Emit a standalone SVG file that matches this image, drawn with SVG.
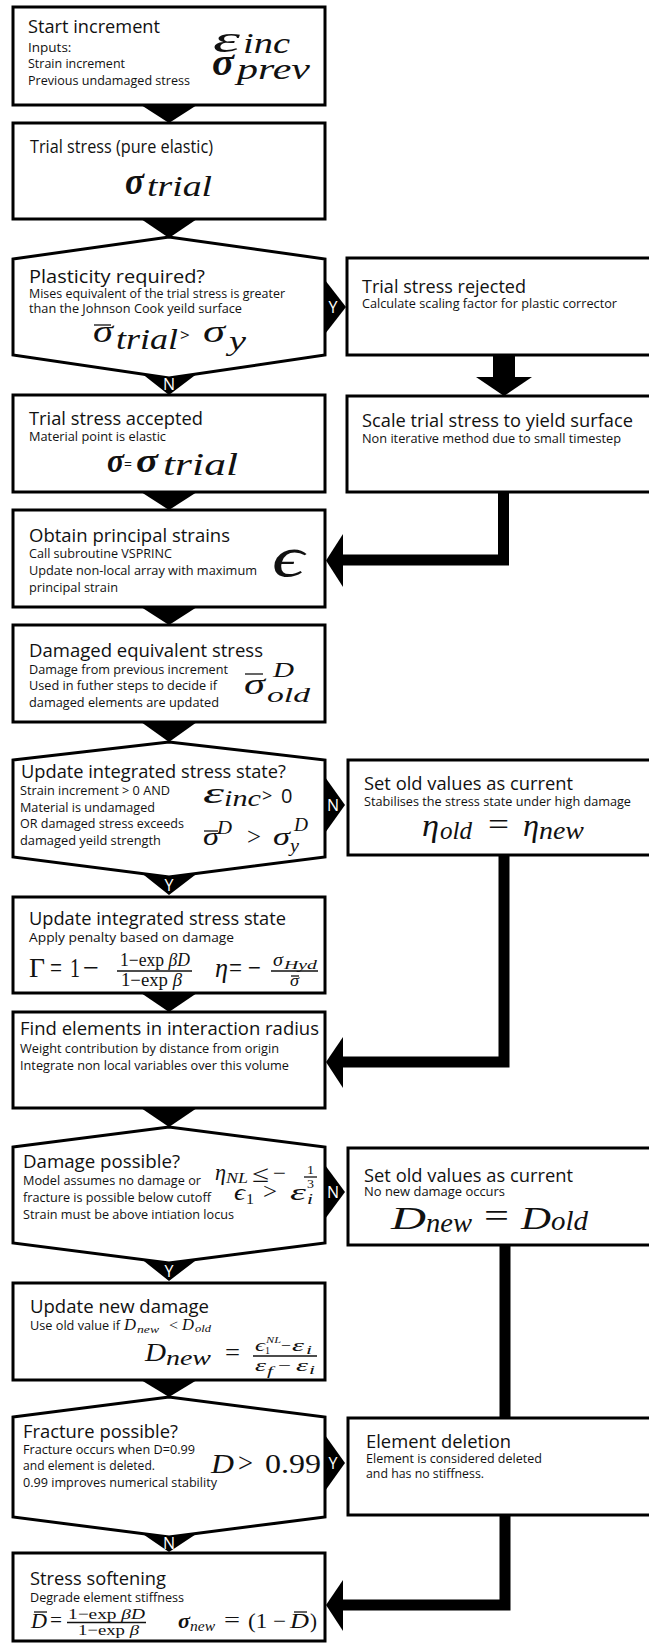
<svg xmlns="http://www.w3.org/2000/svg" width="649" height="1646" viewBox="0 0 649 1646">
<style>
  .box { fill: #fff; stroke: #000; stroke-width: 3; }
  .h { font-family: "Open Sans", "Lato", sans-serif; font-size: 18px; fill: #111; }
  .s { font-family: "Open Sans", "Lato", sans-serif; font-size: 13.5px; fill: #111; }
  .mi { font-family: "Liberation Serif", "DejaVu Serif", serif; font-style: italic; fill: #111; }
  .mu { font-family: "Liberation Serif", "DejaVu Serif", serif; fill: #111; }
  .mb { font-family: "Liberation Serif", "DejaVu Serif", serif; font-style: italic; font-weight: bold; fill: #111; }
  .ms { font-family: "Open Sans", "Lato", sans-serif; fill: #111; }
  .bar { stroke: #111; stroke-width: 1.3; }
  .tri { fill: #000; }
  .wire { fill: none; stroke: #000; stroke-width: 11; stroke-linejoin: miter; }
  .lab { font-family: "Open Sans", "Lato", sans-serif; font-size: 16px; fill: #fff; text-anchor: middle; }
</style>

<rect x="0" y="0" width="649" height="1646" fill="#fff"/>

<!-- ===== left column ===== -->
<g id="start-increment">
  <rect class="box" x="13" y="7" width="312" height="98"/>
  <text class="h" x="28" y="33" textLength="132" lengthAdjust="spacingAndGlyphs">Start increment</text>
  <text class="s" x="28" y="52">Inputs:</text>
  <text class="s" x="28" y="68" textLength="97" lengthAdjust="spacingAndGlyphs">Strain increment</text>
  <text class="s" x="28" y="85" textLength="162" lengthAdjust="spacingAndGlyphs">Previous undamaged stress</text>
  <text class="mi" x="213" y="52" font-size="38" textLength="27" lengthAdjust="spacingAndGlyphs">ε</text>
  <text class="mi" x="243" y="53" font-size="30" textLength="47" lengthAdjust="spacingAndGlyphs">inc</text>
  <text class="mb" x="212" y="75" font-size="38" textLength="22" lengthAdjust="spacingAndGlyphs">σ</text>
  <text class="mi" x="237" y="79" font-size="30" textLength="73" lengthAdjust="spacingAndGlyphs">prev</text>
</g>

<g id="trial-stress">
  <rect class="box" x="13" y="123" width="312" height="96"/>
  <text class="h" x="30" y="153" textLength="183" lengthAdjust="spacingAndGlyphs">Trial stress (pure elastic)</text>
  <text class="mb" x="125" y="194" font-size="38" textLength="19" lengthAdjust="spacingAndGlyphs">σ</text>
  <text class="mi" x="147" y="196" font-size="30" textLength="65" lengthAdjust="spacingAndGlyphs">trial</text>
</g>

<g id="plasticity-required">
  <path class="box" d="M13,259 L169,237 L325,259 L325,355 L169,378 L13,355 Z"/>
  <text class="h" x="29" y="283" textLength="176" lengthAdjust="spacingAndGlyphs">Plasticity required?</text>
  <text class="s" x="29" y="298" textLength="256" lengthAdjust="spacingAndGlyphs">Mises equivalent of the trial stress is greater</text>
  <text class="s" x="29" y="313" textLength="213" lengthAdjust="spacingAndGlyphs">than the Johnson Cook yeild surface</text>
  <text class="mi" x="93" y="342" font-size="32" textLength="20" lengthAdjust="spacingAndGlyphs">σ</text>
  <line class="bar" x1="94" y1="325" x2="111" y2="325"/>
  <text class="mi" x="116" y="349" font-size="30" textLength="62" lengthAdjust="spacingAndGlyphs">trial</text>
  <text class="ms" x="180" y="341" font-size="17">&gt;</text>
  <text class="mi" x="203" y="342" font-size="32" textLength="22" lengthAdjust="spacingAndGlyphs">σ</text>
  <text class="mi" x="229" y="350" font-size="28" textLength="17" lengthAdjust="spacingAndGlyphs">y</text>
</g>

<g id="trial-accepted">
  <rect class="box" x="13" y="395" width="312" height="97"/>
  <text class="h" x="29" y="425" textLength="174" lengthAdjust="spacingAndGlyphs">Trial stress accepted</text>
  <text class="s" x="29" y="441" textLength="137" lengthAdjust="spacingAndGlyphs">Material point is elastic</text>
  <text class="mb" x="107" y="472" font-size="34" textLength="17" lengthAdjust="spacingAndGlyphs">σ</text>
  <text class="ms" x="124" y="469" font-size="14">=</text>
  <text class="mb" x="136" y="472" font-size="34" textLength="22" lengthAdjust="spacingAndGlyphs">σ</text>
  <text class="mi" x="163" y="475" font-size="32" textLength="75" lengthAdjust="spacingAndGlyphs">trial</text>
</g>

<g id="principal-strains">
  <rect class="box" x="13" y="510" width="312" height="97"/>
  <text class="h" x="29" y="542" textLength="201" lengthAdjust="spacingAndGlyphs">Obtain principal strains</text>
  <text class="s" x="29" y="558" textLength="143" lengthAdjust="spacingAndGlyphs">Call subroutine VSPRINC</text>
  <text class="s" x="29" y="575" textLength="228" lengthAdjust="spacingAndGlyphs">Update non-local array with maximum</text>
  <text class="s" x="29" y="592" textLength="89" lengthAdjust="spacingAndGlyphs">principal strain</text>
  <text class="mi" x="272" y="576" font-size="58" textLength="32" lengthAdjust="spacingAndGlyphs">ϵ</text>
</g>

<g id="damaged-equivalent">
  <rect class="box" x="13" y="625" width="312" height="97"/>
  <text class="h" x="29" y="657" textLength="234" lengthAdjust="spacingAndGlyphs">Damaged equivalent stress</text>
  <text class="s" x="29" y="674" textLength="199" lengthAdjust="spacingAndGlyphs">Damage from previous increment</text>
  <text class="s" x="29" y="690" textLength="188" lengthAdjust="spacingAndGlyphs">Used in futher steps to decide if</text>
  <text class="s" x="29" y="707" textLength="190" lengthAdjust="spacingAndGlyphs">damaged elements are updated</text>
  <text class="mi" x="244" y="694" font-size="30" textLength="21" lengthAdjust="spacingAndGlyphs">σ</text>
  <line class="bar" x1="245" y1="674" x2="263" y2="674"/>
  <text class="mi" x="273" y="677" font-size="22" textLength="21" lengthAdjust="spacingAndGlyphs">D</text>
  <text class="mi" x="267" y="702" font-size="22" textLength="43" lengthAdjust="spacingAndGlyphs">old</text>
</g>

<g id="update-stress-decision">
  <path class="box" d="M13,760 L169,742 L325,760 L325,857 L169,877 L13,857 Z"/>
  <text class="h" x="21" y="778" textLength="265" lengthAdjust="spacingAndGlyphs">Update integrated stress state?</text>
  <text class="s" x="20" y="795" textLength="150" lengthAdjust="spacingAndGlyphs">Strain increment &gt; 0 AND</text>
  <text class="s" x="20" y="812" textLength="135" lengthAdjust="spacingAndGlyphs">Material is undamaged</text>
  <text class="s" x="20" y="828" textLength="164" lengthAdjust="spacingAndGlyphs">OR damaged stress exceeds</text>
  <text class="s" x="20" y="845" textLength="141" lengthAdjust="spacingAndGlyphs">damaged yeild strength</text>
  <text class="mi" x="203" y="803" font-size="30" textLength="21" lengthAdjust="spacingAndGlyphs">ε</text>
  <text class="mi" x="224" y="806" font-size="24" textLength="37" lengthAdjust="spacingAndGlyphs">inc</text>
  <text class="ms" x="262" y="802" font-size="18">&gt;</text>
  <text class="ms" x="281" y="803" font-size="20">0</text>
  <text class="mi" x="203" y="845" font-size="26" textLength="16" lengthAdjust="spacingAndGlyphs">σ</text>
  <line class="bar" x1="204" y1="831" x2="218" y2="831"/>
  <text class="mi" x="217" y="834" font-size="18" textLength="15" lengthAdjust="spacingAndGlyphs">D</text>
  <text class="mu" x="247" y="845" font-size="26" textLength="14" lengthAdjust="spacingAndGlyphs">&gt;</text>
  <text class="mi" x="273" y="845" font-size="26" textLength="17" lengthAdjust="spacingAndGlyphs">σ</text>
  <text class="mi" x="294" y="831" font-size="18" textLength="14" lengthAdjust="spacingAndGlyphs">D</text>
  <text class="mi" x="290" y="852" font-size="18" textLength="9" lengthAdjust="spacingAndGlyphs">y</text>
</g>

<g id="update-stress">
  <rect class="box" x="13" y="897" width="312" height="96"/>
  <text class="h" x="29" y="925" textLength="257" lengthAdjust="spacingAndGlyphs">Update integrated stress state</text>
  <text class="s" x="29" y="942" textLength="205" lengthAdjust="spacingAndGlyphs">Apply penalty based on damage</text>
  <text class="mu" x="29" y="977" font-size="28" textLength="16" lengthAdjust="spacingAndGlyphs">Γ</text>
  <text class="mu" x="50" y="977" font-size="28" textLength="12" lengthAdjust="spacingAndGlyphs">=</text>
  <text class="mu" x="70" y="977" font-size="28" textLength="10" lengthAdjust="spacingAndGlyphs">1</text>
  <text class="mu" x="83" y="977" font-size="28" textLength="16" lengthAdjust="spacingAndGlyphs">−</text>
  <text class="mu" x="120" y="966" font-size="18" textLength="70" lengthAdjust="spacingAndGlyphs">1−exp <tspan class="mi">βD</tspan></text>
  <line class="bar" x1="117" y1="971" x2="192" y2="971"/>
  <text class="mu" x="121" y="986" font-size="18" textLength="61" lengthAdjust="spacingAndGlyphs">1−exp <tspan class="mi">β</tspan></text>
  <text class="mi" x="215" y="977" font-size="28" textLength="13" lengthAdjust="spacingAndGlyphs">η</text>
  <text class="mu" x="229" y="977" font-size="28" textLength="13" lengthAdjust="spacingAndGlyphs">=</text>
  <text class="mu" x="248" y="977" font-size="28" textLength="13" lengthAdjust="spacingAndGlyphs">−</text>
  <text class="mi" x="273" y="966" font-size="18" textLength="10" lengthAdjust="spacingAndGlyphs">σ</text>
  <text class="mi" x="284" y="969" font-size="13" textLength="33" lengthAdjust="spacingAndGlyphs">Hyd</text>
  <line class="bar" x1="271" y1="971" x2="318" y2="971"/>
  <text class="mi" x="290" y="986" font-size="17" textLength="9" lengthAdjust="spacingAndGlyphs">σ</text>
  <line class="bar" x1="291" y1="976" x2="299" y2="976" stroke-width="1"/>
</g>

<g id="interaction-radius">
  <rect class="box" x="13" y="1012" width="312" height="96"/>
  <text class="h" x="20" y="1035" textLength="299" lengthAdjust="spacingAndGlyphs">Find elements in interaction radius</text>
  <text class="s" x="20" y="1053" textLength="259" lengthAdjust="spacingAndGlyphs">Weight contribution by distance from origin</text>
  <text class="s" x="20" y="1070" textLength="269" lengthAdjust="spacingAndGlyphs">Integrate non local variables over this volume</text>
</g>

<g id="damage-possible">
  <path class="box" d="M13,1147 L169,1127 L325,1147 L325,1243 L169,1263 L13,1243 Z"/>
  <text class="h" x="23" y="1168" textLength="157" lengthAdjust="spacingAndGlyphs">Damage possible?</text>
  <text class="s" x="23" y="1185" textLength="178" lengthAdjust="spacingAndGlyphs">Model assumes no damage or</text>
  <text class="s" x="23" y="1202" textLength="188" lengthAdjust="spacingAndGlyphs">fracture is possible below cutoff</text>
  <text class="s" x="23" y="1219" textLength="211" lengthAdjust="spacingAndGlyphs">Strain must be above intiation locus</text>
  <text class="mi" x="215" y="1180" font-size="24" textLength="11" lengthAdjust="spacingAndGlyphs">η</text>
  <text class="mi" x="226" y="1183" font-size="15" textLength="22" lengthAdjust="spacingAndGlyphs">NL</text>
  <text class="mu" x="252" y="1182" font-size="24" textLength="17" lengthAdjust="spacingAndGlyphs">≤</text>
  <text class="mu" x="273" y="1181" font-size="24" textLength="13" lengthAdjust="spacingAndGlyphs">−</text>
  <text class="mu" x="307" y="1174" font-size="13" textLength="7" lengthAdjust="spacingAndGlyphs">1</text>
  <line class="bar" x1="304" y1="1177" x2="317" y2="1177"/>
  <text class="mu" x="307" y="1188" font-size="13" textLength="7" lengthAdjust="spacingAndGlyphs">3</text>
  <text class="mi" x="234" y="1200" font-size="24" textLength="11" lengthAdjust="spacingAndGlyphs">ϵ</text>
  <text class="mu" x="246" y="1204" font-size="15" textLength="8" lengthAdjust="spacingAndGlyphs">1</text>
  <text class="mu" x="263" y="1199" font-size="24" textLength="14" lengthAdjust="spacingAndGlyphs">&gt;</text>
  <text class="mi" x="290" y="1200" font-size="24" textLength="16" lengthAdjust="spacingAndGlyphs">ε</text>
  <text class="mi" x="307" y="1204" font-size="15" textLength="6" lengthAdjust="spacingAndGlyphs">i</text>
</g>

<g id="update-damage">
  <rect class="box" x="13" y="1283" width="312" height="97"/>
  <text class="h" x="30" y="1313" textLength="179" lengthAdjust="spacingAndGlyphs">Update new damage</text>
  <text class="s" x="30" y="1330" textLength="90" lengthAdjust="spacingAndGlyphs">Use old value if</text>
  <text class="mi" x="124" y="1330" font-size="16" textLength="12" lengthAdjust="spacingAndGlyphs">D</text>
  <text class="mi" x="137" y="1333" font-size="11" textLength="22" lengthAdjust="spacingAndGlyphs">new</text>
  <text class="mu" x="169" y="1330" font-size="15" textLength="9" lengthAdjust="spacingAndGlyphs">&lt;</text>
  <text class="mi" x="182" y="1330" font-size="16" textLength="12" lengthAdjust="spacingAndGlyphs">D</text>
  <text class="mi" x="195" y="1332" font-size="11" textLength="16" lengthAdjust="spacingAndGlyphs">old</text>
  <text class="mi" x="145" y="1361" font-size="26" textLength="21" lengthAdjust="spacingAndGlyphs">D</text>
  <text class="mi" x="166" y="1365" font-size="22" textLength="45" lengthAdjust="spacingAndGlyphs">new</text>
  <text class="mu" x="225" y="1360" font-size="24" textLength="15" lengthAdjust="spacingAndGlyphs">=</text>
  <text class="mi" x="255" y="1351" font-size="17" textLength="10" lengthAdjust="spacingAndGlyphs">ϵ</text>
  <text class="mu" x="265" y="1354" font-size="10" textLength="5" lengthAdjust="spacingAndGlyphs">1</text>
  <text class="mi" x="266" y="1343" font-size="9" textLength="15" lengthAdjust="spacingAndGlyphs">NL</text>
  <text class="mu" x="281" y="1351" font-size="16" textLength="10" lengthAdjust="spacingAndGlyphs">−</text>
  <text class="mi" x="292" y="1351" font-size="17" textLength="12" lengthAdjust="spacingAndGlyphs">ε</text>
  <text class="mi" x="306" y="1354" font-size="12" textLength="6" lengthAdjust="spacingAndGlyphs">i</text>
  <line class="bar" x1="253" y1="1356" x2="317" y2="1356"/>
  <text class="mi" x="255" y="1371" font-size="17" textLength="11" lengthAdjust="spacingAndGlyphs">ε</text>
  <text class="mi" x="267" y="1375" font-size="12" textLength="6" lengthAdjust="spacingAndGlyphs">f</text>
  <text class="mu" x="278" y="1371" font-size="16" textLength="13" lengthAdjust="spacingAndGlyphs">−</text>
  <text class="mi" x="296" y="1371" font-size="17" textLength="12" lengthAdjust="spacingAndGlyphs">ε</text>
  <text class="mi" x="309" y="1374" font-size="12" textLength="6" lengthAdjust="spacingAndGlyphs">i</text>
</g>

<g id="fracture-possible">
  <path class="box" d="M13,1417 L169,1397 L325,1417 L325,1517 L169,1537 L13,1517 Z"/>
  <text class="h" x="23" y="1438" textLength="155" lengthAdjust="spacingAndGlyphs">Fracture possible?</text>
  <text class="s" x="23" y="1454" textLength="172" lengthAdjust="spacingAndGlyphs">Fracture occurs when D=0.99</text>
  <text class="s" x="23" y="1470" textLength="132" lengthAdjust="spacingAndGlyphs">and element is deleted.</text>
  <text class="s" x="23" y="1487" textLength="194" lengthAdjust="spacingAndGlyphs">0.99 improves numerical stability</text>
  <text class="mi" x="211" y="1473" font-size="28" textLength="23" lengthAdjust="spacingAndGlyphs">D</text>
  <text class="mu" x="238" y="1472" font-size="28" textLength="15" lengthAdjust="spacingAndGlyphs">&gt;</text>
  <text class="mu" x="265" y="1473" font-size="28" textLength="56" lengthAdjust="spacingAndGlyphs">0.99</text>
</g>

<g id="stress-softening">
  <rect class="box" x="13" y="1553" width="312" height="88"/>
  <text class="h" x="30" y="1585" textLength="136" lengthAdjust="spacingAndGlyphs">Stress softening</text>
  <text class="s" x="30" y="1602" textLength="154" lengthAdjust="spacingAndGlyphs">Degrade element stiffness</text>
  <text class="mi" x="31" y="1628" font-size="21" textLength="16" lengthAdjust="spacingAndGlyphs">D</text>
  <line class="bar" x1="34" y1="1612" x2="47" y2="1612"/>
  <text class="mu" x="50" y="1627" font-size="21" textLength="12" lengthAdjust="spacingAndGlyphs">=</text>
  <text class="mu" x="68" y="1619" font-size="15" textLength="77" lengthAdjust="spacingAndGlyphs">1−exp <tspan class="mi">βD</tspan></text>
  <line class="bar" x1="67" y1="1622.5" x2="146" y2="1622.5"/>
  <text class="mu" x="78" y="1635" font-size="15" textLength="61" lengthAdjust="spacingAndGlyphs">1−exp <tspan class="mi">β</tspan></text>
  <text class="mb" x="178" y="1628" font-size="21" textLength="12" lengthAdjust="spacingAndGlyphs">σ</text>
  <text class="mi" x="190" y="1631" font-size="14" textLength="25" lengthAdjust="spacingAndGlyphs">new</text>
  <text class="mu" x="224" y="1627" font-size="21" textLength="16" lengthAdjust="spacingAndGlyphs">=</text>
  <text class="mu" x="248" y="1628" font-size="21" textLength="38" lengthAdjust="spacingAndGlyphs">(1 −</text>
  <text class="mi" x="290" y="1628" font-size="21" textLength="19" lengthAdjust="spacingAndGlyphs">D</text>
  <line class="bar" x1="294" y1="1612" x2="307" y2="1612"/>
  <text class="mu" x="310" y="1628" font-size="21" textLength="7" lengthAdjust="spacingAndGlyphs">)</text>
</g>

<!-- ===== right column ===== -->
<g id="trial-rejected">
  <rect class="box" x="347" y="258" width="310" height="97"/>
  <text class="h" x="362" y="293" textLength="164" lengthAdjust="spacingAndGlyphs">Trial stress rejected</text>
  <text class="s" x="362" y="308" textLength="255" lengthAdjust="spacingAndGlyphs">Calculate scaling factor for plastic corrector</text>
</g>

<g id="scale-to-yield">
  <rect class="box" x="347" y="396" width="310" height="96"/>
  <text class="h" x="362" y="427" textLength="271" lengthAdjust="spacingAndGlyphs">Scale trial stress to yield surface</text>
  <text class="s" x="362" y="443" textLength="259" lengthAdjust="spacingAndGlyphs">Non iterative method due to small timestep</text>
</g>

<g id="keep-stress-state">
  <rect class="box" x="348" y="760" width="310" height="95"/>
  <text class="h" x="364" y="790" textLength="209" lengthAdjust="spacingAndGlyphs">Set old values as current</text>
  <text class="s" x="364" y="806" textLength="267" lengthAdjust="spacingAndGlyphs">Stabilises the stress state under high damage</text>
  <text class="mi" x="422" y="836" font-size="32" textLength="17" lengthAdjust="spacingAndGlyphs">η</text>
  <text class="mi" x="440" y="839" font-size="25" textLength="32" lengthAdjust="spacingAndGlyphs">old</text>
  <text class="mu" x="488" y="835" font-size="32" textLength="21" lengthAdjust="spacingAndGlyphs">=</text>
  <text class="mi" x="523" y="836" font-size="32" textLength="16" lengthAdjust="spacingAndGlyphs">η</text>
  <text class="mi" x="539" y="839" font-size="25" textLength="45" lengthAdjust="spacingAndGlyphs">new</text>
</g>

<g id="keep-damage">
  <rect class="box" x="348" y="1148" width="310" height="97"/>
  <text class="h" x="364" y="1182" textLength="209" lengthAdjust="spacingAndGlyphs">Set old values as current</text>
  <text class="s" x="364" y="1196" textLength="141" lengthAdjust="spacingAndGlyphs">No new damage occurs</text>
  <text class="mi" x="391" y="1229" font-size="32" textLength="35" lengthAdjust="spacingAndGlyphs">D</text>
  <text class="mi" x="426" y="1232" font-size="28" textLength="46" lengthAdjust="spacingAndGlyphs">new</text>
  <text class="mu" x="484" y="1227" font-size="34" textLength="25" lengthAdjust="spacingAndGlyphs">=</text>
  <text class="mi" x="521" y="1229" font-size="32" textLength="30" lengthAdjust="spacingAndGlyphs">D</text>
  <text class="mi" x="551" y="1230" font-size="28" textLength="37" lengthAdjust="spacingAndGlyphs">old</text>
</g>

<g id="element-deletion">
  <rect class="box" x="348" y="1418" width="310" height="97"/>
  <text class="h" x="366" y="1448" textLength="145" lengthAdjust="spacingAndGlyphs">Element deletion</text>
  <text class="s" x="366" y="1463" textLength="176" lengthAdjust="spacingAndGlyphs">Element is considered deleted</text>
  <text class="s" x="366" y="1478" textLength="118" lengthAdjust="spacingAndGlyphs">and has no stiffness.</text>
</g>

<!-- ===== connectors ===== -->
<g id="connectors">
  <!-- straight-down flow arrows -->
  <polygon class="tri" points="141,105 197,105 169,123"/>
  <polygon class="tri" points="141,219 197,219 169,238"/>
  <polygon class="tri" points="141,492 197,492 169,510"/>
  <polygon class="tri" points="141,607 197,607 169,625"/>
  <polygon class="tri" points="141,722 197,722 169,742"/>
  <polygon class="tri" points="141,993 197,993 169,1012"/>
  <polygon class="tri" points="141,1108 197,1108 169,1127"/>
  <polygon class="tri" points="141,1380 197,1380 169,1397"/>

  <!-- decision exits: downward -->
  <polygon class="tri" points="142,373.8 169,378 197,373.7 169,395"/>
  <polygon class="tri" points="142,873.5 169,877 197,873.4 169,895"/>
  <polygon class="tri" points="142,1259.5 169,1263 197,1259.4 169,1281"/>
  <polygon class="tri" points="142,1533.5 169,1537 197,1533.4 169,1552"/>

  <!-- decision exits: to the right -->
  <polygon class="tri" points="325,280 346,307 325,334"/>
  <polygon class="tri" points="325,777 345,805 325,833"/>
  <polygon class="tri" points="325,1165 345,1192 325,1219"/>
  <polygon class="tri" points="325,1435 345,1463 325,1491"/>

  <!-- rejected -> scale to yield surface -->
  <rect x="493" y="355" width="22" height="23" fill="#000"/>
  <polygon class="tri" points="476,377 532,377 504,396"/>

  <!-- right column back into left column -->
  <path class="wire" d="M503.5,492 V560 H342"/>
  <polygon class="tri" points="343,534 343,587 326,560.5"/>
  <path class="wire" d="M504,855 V1062 H342"/>
  <polygon class="tri" points="343,1037 343,1088 326,1062"/>
  <path class="wire" d="M505,1245 V1418"/>
  <path class="wire" d="M505,1515 V1605 H342"/>
  <polygon class="tri" points="343,1580 343,1631 326,1605"/>

  <!-- branch labels -->
  <text class="lab" x="333" y="313">Y</text>
  <text class="lab" x="169" y="390">N</text>
  <text class="lab" x="333" y="811">N</text>
  <text class="lab" x="169" y="891">Y</text>
  <text class="lab" x="333" y="1198">N</text>
  <text class="lab" x="169" y="1277">Y</text>
  <text class="lab" x="333" y="1469">Y</text>
  <text class="lab" x="169" y="1549">N</text>
</g>
</svg>
